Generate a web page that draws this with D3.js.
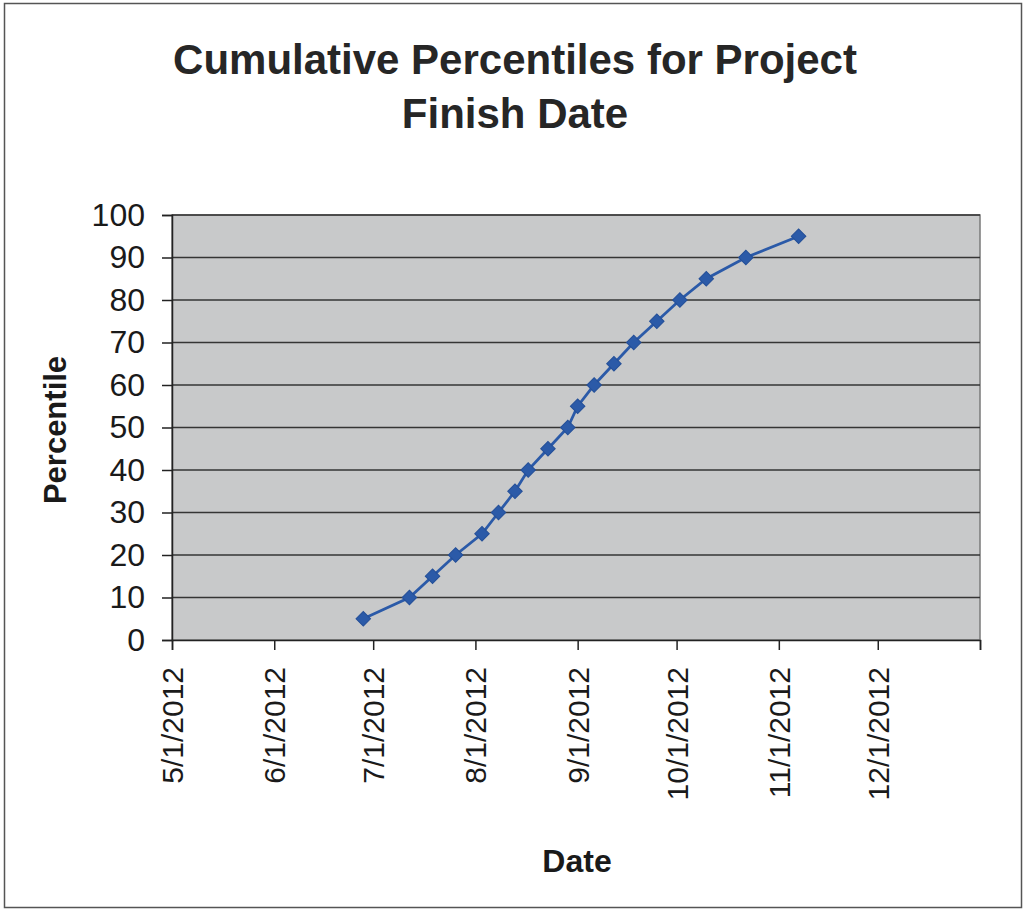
<!DOCTYPE html>
<html>
<head>
<meta charset="utf-8">
<script src="https://cdn.jsdelivr.net/npm/d3@7"></script>
<style>
  html, body { margin: 0; padding: 0; background: #ffffff; }
  svg { display: block; }
</style>
</head>
<body>
<svg id="chart" width="1025" height="911"></svg>
<script>
// ---- data ----
const titleLines = ["Cumulative Percentiles for Project", "Finish Date"];
const xAxisTitle = "Date";
const yAxisTitle = "Percentile";
const finishDates = ["2012-06-28","2012-07-12","2012-07-19","2012-07-26","2012-08-03","2012-08-08","2012-08-13","2012-08-17","2012-08-23","2012-08-29","2012-09-01","2012-09-06","2012-09-12","2012-09-18","2012-09-25","2012-10-02","2012-10-10","2012-10-22","2012-11-07"];
const percentiles = [5,10,15,20,25,30,35,40,45,50,55,60,65,70,75,80,85,90,95];
const xTickDates = ["2012-05-01","2012-06-01","2012-07-01","2012-08-01","2012-09-01","2012-10-01","2012-11-01","2012-12-01","2013-01-01"];
const xTickLabels = ["5/1/2012","6/1/2012","7/1/2012","8/1/2012","9/1/2012","10/1/2012","11/1/2012","12/1/2012",""];
const yTicks = [0,10,20,30,40,50,60,70,80,90,100];

const parse = d3.utcParse("%Y-%m-%d");
const points = finishDates.map((d, i) => ({date: parse(d), p: percentiles[i]}));
const tickDates = xTickDates.map(parse);

const svg = d3.select("#chart");
const plot = {left: 172, right: 980, top: 215, bottom: 640};
const font = "'Liberation Sans', Arial, sans-serif";

// outer border
svg.append("rect").attr("x", 4.5).attr("y", 3.5).attr("width", 1017).attr("height", 904)
  .attr("fill", "#fff").attr("stroke", "#555").attr("stroke-width", 1.5);

const x = d3.scaleUtc().domain([tickDates[0], tickDates[tickDates.length - 1]]).range([plot.left, plot.right]);
const y = d3.scaleLinear().domain([0, 100]).range([plot.bottom, plot.top]);

// plot area
svg.append("rect").attr("x", plot.left).attr("y", plot.top)
  .attr("width", plot.right - plot.left).attr("height", plot.bottom - plot.top)
  .attr("fill", "#c8c9ca").attr("stroke", "#7a7a7a").attr("stroke-width", 1.5);

// gridlines
svg.append("g").selectAll("line").data(yTicks.filter(v => v > 0)).join("line")
  .attr("x1", plot.left).attr("x2", plot.right)
  .attr("y1", d => y(d)).attr("y2", d => y(d))
  .attr("stroke", "#353535").attr("stroke-width", 1.6);

// y axis
const yAxis = svg.append("g").attr("transform", `translate(${plot.left},0)`)
  .call(d3.axisLeft(y).tickValues(yTicks).tickSize(10).tickPadding(17).tickFormat(d3.format("d")));
yAxis.select(".domain").attr("stroke", "#222").attr("stroke-width", 1.5);
yAxis.selectAll(".tick line").attr("stroke", "#222").attr("stroke-width", 1.5);
yAxis.selectAll("text").attr("font-family", font).attr("font-size", 32).attr("fill", "#1a1a1a");

// x axis
const xAxis = svg.append("g").attr("transform", `translate(0,${plot.bottom})`)
  .call(d3.axisBottom(x).tickValues(tickDates).tickSize(10).tickFormat((d, i) => xTickLabels[i]));
xAxis.select(".domain").attr("stroke", "#222").attr("stroke-width", 1.5);
xAxis.selectAll(".tick line").attr("stroke", "#222").attr("stroke-width", 1.5);
xAxis.selectAll("text")
  .attr("font-family", font).attr("font-size", 30).attr("fill", "#1a1a1a")
  .attr("text-anchor", "end")
  .attr("transform", "rotate(-90)")
  .attr("x", -27).attr("y", 0).attr("dy", "0.35em");

// series line
const line = d3.line().x(d => x(d.date)).y(d => y(d.p));
svg.append("path").datum(points).attr("d", line)
  .attr("fill", "none").attr("stroke", "#2b5aa8").attr("stroke-width", 2.8);

// markers
svg.append("g").selectAll("path").data(points).join("path")
  .attr("d", d3.symbol(d3.symbolSquare, 105)())
  .attr("transform", d => `translate(${x(d.date)},${y(d.p)}) rotate(45)`)
  .attr("fill", "#2b5aa8").attr("stroke", "#244f98").attr("stroke-width", 1);

// title
svg.append("g").selectAll("text").data(titleLines).join("text")
  .attr("x", 515).attr("y", (d, i) => 74 + i * 54)
  .attr("text-anchor", "middle")
  .attr("font-family", font).attr("font-weight", "bold").attr("font-size", 42)
  .attr("fill", "#262626")
  .text(d => d);

// axis titles
svg.append("text").attr("x", 577).attr("y", 872).attr("text-anchor", "middle")
  .attr("font-family", font).attr("font-weight", "bold").attr("font-size", 32).attr("fill", "#1a1a1a")
  .text(xAxisTitle);
svg.append("text").attr("transform", "translate(66,430) rotate(-90)").attr("text-anchor", "middle")
  .attr("font-family", font).attr("font-weight", "bold").attr("font-size", 31).attr("fill", "#1a1a1a")
  .text(yAxisTitle);
</script>
</body>
</html>
